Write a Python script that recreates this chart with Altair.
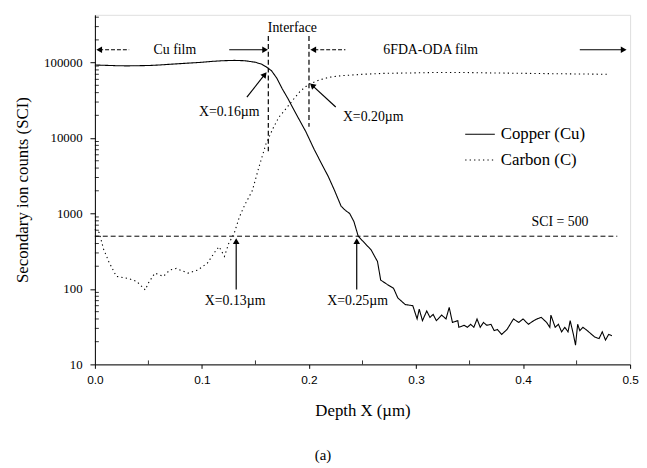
import altair as alt
import pandas as pd

SERIF = "Liberation Serif"
SANS = "Liberation Sans"

# ---- data ----
cu_depth = [0.000, 0.010, 0.020, 0.030, 0.040, 0.050, 0.060, 0.070, 0.080, 0.090,
            0.100, 0.110, 0.120, 0.130, 0.140, 0.150, 0.156, 0.160, 0.165, 0.170,
            0.175, 0.180, 0.185, 0.190, 0.197, 0.205, 0.212, 0.218, 0.224, 0.230,
            0.234, 0.238, 0.242, 0.246, 0.251, 0.258, 0.264, 0.267, 0.273, 0.279,
            0.283, 0.290, 0.297, 0.301, 0.303, 0.306, 0.310, 0.313, 0.316, 0.319,
            0.324, 0.328, 0.331, 0.334, 0.339, 0.340, 0.345, 0.348, 0.351, 0.354,
            0.357, 0.360, 0.363, 0.366, 0.370, 0.373, 0.376, 0.380, 0.385, 0.391,
            0.396, 0.400, 0.405, 0.410, 0.413, 0.417, 0.422, 0.425, 0.426, 0.430,
            0.433, 0.436, 0.439, 0.442, 0.444, 0.447, 0.449, 0.451, 0.453, 0.456,
            0.460, 0.467, 0.471, 0.474, 0.477, 0.480, 0.483]
cu_counts = [93000, 92000, 91000, 90500, 91000, 91500, 93000, 95000, 97000, 99000,
             101000, 104000, 106000, 107000, 106000, 101000, 95000, 88000, 78000, 62000,
             45000, 34000, 25000, 18500, 12200, 7000, 4500, 3100, 2000, 1250,
             1100, 1000, 780, 500, 420, 330, 231, 131, 115, 102,
             76, 62, 60, 40, 54, 38, 51, 42, 46, 38,
             45, 40, 57, 36, 38, 31, 33, 31, 34, 31,
             40, 31, 36, 33, 34, 28, 29, 25, 29, 40,
             36, 40, 34, 38, 40, 42, 36, 31, 45, 31,
             34, 27, 31, 27, 38, 25, 18, 34, 28, 31,
             28, 23, 22, 27, 21, 25, 24]

c_depth = [0.000, 0.004, 0.008, 0.013, 0.020, 0.031, 0.039, 0.047, 0.050, 0.056,
           0.064, 0.070, 0.076, 0.087, 0.096, 0.105, 0.113, 0.116, 0.121, 0.125,
           0.130, 0.135, 0.140, 0.147, 0.153, 0.160, 0.167, 0.172, 0.177, 0.185,
           0.192, 0.200, 0.210, 0.219, 0.230, 0.250, 0.270, 0.296, 0.320, 0.342,
           0.370, 0.403, 0.440, 0.480]
c_counts = [620, 560, 340, 230, 147, 138, 126, 97, 120, 162,
            147, 178, 187, 162, 178, 219, 323, 363, 270, 400,
            540, 900, 1300, 2000, 4000, 8500, 14000, 19000, 23000, 32000,
            42000, 52000, 59000, 64000, 67000, 70000, 72000, 73000, 74000, 74000,
            73000, 72000, 71000, 70000]

series_names = ["Copper (Cu)", "Carbon (C)"]
y_ticks = [10, 100, 1000, 10000, 100000]
x_ticks = [0.0, 0.1, 0.2, 0.3, 0.4, 0.5]
y_minor = [m * 10 ** e for e in range(1, 6) for m in range(2, 10) if m * 10 ** e <= 430000]
x_minor = [0.05, 0.15, 0.25, 0.35, 0.45]

# annotation data (data coordinates)
iface_x = [0.162, 0.200]
iface_top = [225000, 225000]
iface_bottom = [6700, 14100]

labels_text = ["Interface", "Cu film", "6FDA-ODA film", "X=0.16µm", "X=0.20µm",
               "X=0.13µm", "X=0.25µm", "SCI = 500"]
labels_x = [0.1845, 0.0747, 0.3137, 0.1255, 0.260, 0.131, 0.2454, 0.4345]
labels_y = [287000, 148000, 148000, 22200, 19100, 68.7, 68.7, 760]

solid_seg_x = [0.1255, 0.453]
solid_seg_x2 = [0.158, 0.492]
dash_seg_x = [0.004, 0.205]
dash_seg_x2 = [0.032, 0.234]
film_y = 148000

diag_x = [0.142, 0.225, 0.132, 0.2446]
diag_y = [34800, 25800, 98, 98]
diag_x2 = [0.1587, 0.203, 0.132, 0.2446]
diag_y2 = [69700, 50000, 444, 444]

head_x = [0.004, 0.159, 0.204, 0.494, 0.1587, 0.203, 0.132, 0.2446]
head_y = [148000, 148000, 148000, 148000, 69700, 50000, 430, 430]
head_angle = [270, 90, 270, 90, 38, 312, 0, 0]

sci_level = 500
sci_x = [0.0]
sci_x2 = [0.488]

# ---- chart ----
W, H = 542, 354
xscale = alt.Scale(domain=[0, 0.5], nice=False, zero=False)
yscale = alt.Scale(type="log", domain=[10, 430000], nice=False)

lines_df = pd.concat([
    pd.DataFrame({"depth": cu_depth, "counts": cu_counts, "series": series_names[0]}),
    pd.DataFrame({"depth": c_depth, "counts": c_counts, "series": series_names[1]}),
])

x_axis = alt.Axis(values=x_ticks, format=".1f", title="Depth X (µm)", grid=False,
                  labelFont=SANS, labelFontSize=12, labelColor="black",
                  titleFont=SERIF, titleFontSize=17, titleFontWeight="normal", titleColor="black",
                  tickSize=4, labelPadding=6, titlePadding=18,
                  domainColor="black", tickColor="black", labelFlush=False)
y_axis = alt.Axis(values=y_ticks, format="d", title="Secondary ion counts (SCI)", grid=False,
                  labelFont=SERIF, labelFontSize=13, labelColor="black",
                  titleFont=SERIF, titleFontSize=17, titleFontWeight="normal", titleColor="black",
                  tickSize=5, labelPadding=8, titlePadding=12,
                  domainColor="black", tickColor="black")

lines = alt.Chart(lines_df).mark_line(color="black", strokeWidth=1.1).encode(
    x=alt.X("depth:Q", scale=xscale, axis=x_axis),
    y=alt.Y("counts:Q", scale=yscale, axis=y_axis),
    strokeDash=alt.StrokeDash(
        "series:N",
        scale=alt.Scale(domain=series_names, range=[[1, 0], [1.3, 3.2]]),
        legend=alt.Legend(orient="none", legendX=374, legendY=105, title=None,
                          symbolType="stroke", symbolSize=900, symbolStrokeWidth=1.1,
                          symbolStrokeColor="black", labelFont=SERIF, labelFontSize=17,
                          labelColor="black", rowPadding=2, labelOffset=5),
    ),
    order="depth:Q",
)

ymin_df = pd.DataFrame({"v": y_minor})
y_minor_ticks = alt.Chart(ymin_df).mark_rule(color="black", strokeWidth=0.8).encode(
    y=alt.Y("v:Q", scale=yscale), x=alt.value(0), x2=alt.value(4))
xmin_df = pd.DataFrame({"v": x_minor})
x_minor_ticks = alt.Chart(xmin_df).mark_rule(color="black", strokeWidth=0.8).encode(
    x=alt.X("v:Q", scale=xscale), y=alt.value(H), y2=alt.value(H - 4))

iface = alt.Chart(pd.DataFrame({"x": iface_x, "y": iface_top, "y2": iface_bottom})).mark_rule(
    color="black", strokeWidth=1.2, strokeDash=[5, 3]).encode(
    x=alt.X("x:Q", scale=xscale), y=alt.Y("y:Q", scale=yscale), y2="y2:Q")

texts = alt.Chart(pd.DataFrame({"x": labels_x, "y": labels_y, "t": labels_text})).mark_text(
    font=SERIF, fontSize=14, color="black", baseline="middle", align="center").encode(
    x=alt.X("x:Q", scale=xscale), y=alt.Y("y:Q", scale=yscale), text="t:N")

solid_segs = alt.Chart(pd.DataFrame({"x": solid_seg_x, "x2": solid_seg_x2, "y": [film_y] * 2})).mark_rule(
    color="black", strokeWidth=1.2).encode(
    x=alt.X("x:Q", scale=xscale), x2="x2:Q", y=alt.Y("y:Q", scale=yscale))
dash_segs = alt.Chart(pd.DataFrame({"x": dash_seg_x, "x2": dash_seg_x2, "y": [film_y] * 2})).mark_rule(
    color="black", strokeWidth=1.1, strokeDash=[4, 2]).encode(
    x=alt.X("x:Q", scale=xscale), x2="x2:Q", y=alt.Y("y:Q", scale=yscale))

diag = alt.Chart(pd.DataFrame({"x": diag_x, "y": diag_y, "x2": diag_x2, "y2": diag_y2})).mark_rule(
    color="black", strokeWidth=1.2).encode(
    x=alt.X("x:Q", scale=xscale), y=alt.Y("y:Q", scale=yscale), x2="x2:Q", y2="y2:Q")

heads = alt.Chart(pd.DataFrame({"x": head_x, "y": head_y, "a": head_angle})).mark_point(
    shape="triangle-up", filled=True, color="black", size=45, opacity=1).encode(
    x=alt.X("x:Q", scale=xscale), y=alt.Y("y:Q", scale=yscale),
    angle=alt.Angle("a:Q", scale=None))

sci = alt.Chart(pd.DataFrame({"x": sci_x, "x2": sci_x2, "y": [sci_level]})).mark_rule(
    color="black", strokeWidth=1, strokeDash=[5, 3]).encode(
    x=alt.X("x:Q", scale=xscale), x2="x2:Q", y=alt.Y("y:Q", scale=yscale))

chart = alt.layer(
    y_minor_ticks, x_minor_ticks, sci, iface, solid_segs, dash_segs, diag, heads, texts, lines
).properties(
    width=W, height=H,
    autosize=alt.AutoSizeParams(type="none"),
    padding={"left": 88, "top": 4, "right": 9, "bottom": 100},
    title=alt.TitleParams("(a)", orient="bottom", font=SERIF, fontSize=15,
                          fontWeight="normal", color="black", dx=-40, offset=30),
).configure_view(stroke="black", strokeWidth=1.2).configure(background="white")

chart.save("out.html", embed_options={"renderer": "svg", "actions": False})
